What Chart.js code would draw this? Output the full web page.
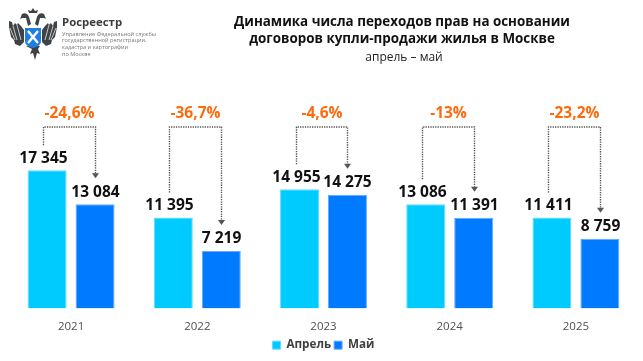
<!DOCTYPE html>
<html lang="ru">
<head>
<meta charset="utf-8">
<title>Динамика числа переходов прав</title>
<script src="https://cdn.jsdelivr.net/npm/chart.js@4"></script>
<style>
  html, body { margin: 0; padding: 0; background: #fff; }
  #wrap { position: relative; width: 643px; height: 361px; overflow: hidden; font-family: "Open Sans", sans-serif; }
  #chart { position: absolute; left: 0; top: 0; }
  .t { position: absolute; white-space: nowrap; }
  #title { left: 202px; width: 400px; top: 12.5px; text-align: center; font-weight: 700; font-size: 13.4px; line-height: 17px; color: #111; }
  #sub { left: 204px; width: 400px; top: 49px; text-align: center; font-size: 12px; line-height: 16px; color: #222; }
  #brand { left: 62px; top: 14px; font-weight: 700; font-size: 11.4px; line-height: 16px; color: #3c3c3c; }
  #org { left: 62px; top: 30.5px; font-size: 5.6px; line-height: 6.7px; color: #777; }
  #emblem { position: absolute; left: 8px; top: 8px; }
</style>
</head>
<body>
<div id="wrap">
  <canvas id="chart" width="643" height="361"></canvas>
  <svg id="emblem" width="50" height="53" viewBox="0 0 50 53">
    <g fill="#3f4346">
      <path d="M21 5h8l1-3-3 1-2-3-2 3-3-1z"/>
      <path d="M14 6c3-2 6 0 7 3l2 7-3 2-2-8-4 0-2 1z"/>
      <path d="M36 6c-3-2-6 0-7 3l-2 7 3 2 2-8 4 0 2 1z"/>
      <path d="M1 13l3 1 1 4 2-3 2 2 1-2 3 3 3 4v12l-4 4-5-2-1-4-3-3-1-5-1-5z"/>
      <path d="M49 13l-3 1-1 4-2-3-2 2-1-2-3 3-3 4v12l4 4 5-2 1-4 3-3 1-5 1-5z"/>
      <path d="M18 38h14l-2 3 2 5-3-1-2 7-2-7-3 1 2-5z"/>
    </g>
    <g stroke="#fff" stroke-width=".7" fill="none">
      <path d="M5 18l4 14M9 17l4 15M2 20l5 12M45 18l-4 14M41 17l-4 15M48 20l-5 12"/>
    </g>
    <path d="M17 20h16v13c0 4-4 6-8 7-4-1-8-3-8-7z" fill="#1f7fe0"/>
    <path d="M20 23l10 12M30 23l-10 12" stroke="#fff" stroke-width="2.4"/>
  </svg>
  <div class="t" id="brand">Росреестр</div>
  <div class="t" id="org">Управление Федеральной службы<br>государственной регистрации,<br>кадастра и картографии<br>по Москве</div>
  <div class="t" id="title">Динамика числа переходов прав на основании<br>договоров купли-продажи жилья в Москве</div>
  <div class="t" id="sub">апрель – май</div>
</div>
<script>
var years = ['2021', '2022', '2023', '2024', '2025'];
var aprilValues = [17345, 11395, 14955, 13086, 11411];
var mayValues = [13084, 7219, 14275, 11391, 8759];
var changeLabels = ['-24,6%', '-36,7%', '-4,6%', '-13%', '-23,2%'];

function formatValue(v) {
  return String(v).replace(/\B(?=(\d{3})+$)/g, ' ');
}

// value labels, dotted brackets and the % over each pair of bars
var bracketPlugin = {
  id: 'brackets',
  afterDatasetsDraw: function (chart) {
    var ctx = chart.ctx;
    var apr = chart.getDatasetMeta(0).data;
    var may = chart.getDatasetMeta(1).data;
    var levelY = 127;

    ctx.save();
    ctx.textAlign = 'center';
    ctx.textBaseline = 'middle';

    years.forEach(function (year, i) {
      var leftX = Math.round(apr[i].x) - 3.5;
      var rightX = Math.round(may[i].x) + 0.5;
      var leftEnd = apr[i].y - 25;
      var tipY = may[i].y - 26;

      ctx.fillStyle = '#111';
      ctx.font = '700 15.5px "Open Sans"';
      ctx.fillText(formatValue(aprilValues[i]), leftX, apr[i].y - 12);
      ctx.fillText(formatValue(mayValues[i]), rightX, may[i].y - 12);

      ctx.strokeStyle = '#555';
      ctx.lineWidth = 1.4;
      ctx.setLineDash([1.3, 1.1]);
      ctx.beginPath();
      ctx.moveTo(leftX, leftEnd);
      ctx.lineTo(leftX, levelY);
      ctx.lineTo(rightX, levelY);
      ctx.lineTo(rightX, tipY - 5);
      ctx.stroke();
      ctx.setLineDash([]);

      ctx.fillStyle = '#555';
      ctx.beginPath();
      ctx.moveTo(rightX - 3.5, tipY - 5);
      ctx.lineTo(rightX + 3.5, tipY - 5);
      ctx.lineTo(rightX, tipY);
      ctx.closePath();
      ctx.fill();

      ctx.fillStyle = '#ff6a0d';
      ctx.font = '700 15.5px "Open Sans"';
      ctx.fillText(changeLabels[i], (leftX + rightX) / 2, levelY - 13.5);
    });
    ctx.restore();
  }
};

new Chart(document.getElementById('chart'), {
  type: 'bar',
  data: {
    labels: years,
    datasets: [
      { label: 'Апрель', data: aprilValues, backgroundColor: '#00cbff', borderColor: '#66d9ff', borderWidth: 1 },
      { label: 'Май', data: mayValues, backgroundColor: '#007bff', borderColor: '#66a9ff', borderWidth: 1 }
    ]
  },
  options: {
    responsive: false,
    animation: false,
    categoryPercentage: 0.76,
    barPercentage: 0.8125,
    layout: { padding: { left: 8, right: 4, top: 149, bottom: 0 } },
    scales: {
      x: {
        grid: { display: false },
        border: { display: false },
        ticks: { color: '#505050', font: { family: '"Open Sans"', size: 11.5 }, padding: 3 }
      },
      y: { display: false, min: 0, max: 20000 }
    },
    plugins: {
      tooltip: { enabled: false },
      legend: {
        position: 'bottom',
        labels: {
          color: '#404040',
          font: { family: '"Open Sans"', size: 11.7, weight: '700' },
          boxWidth: 8,
          boxHeight: 8,
          padding: 3
        }
      }
    }
  },
  plugins: [bracketPlugin]
});
</script>
</body>
</html>
